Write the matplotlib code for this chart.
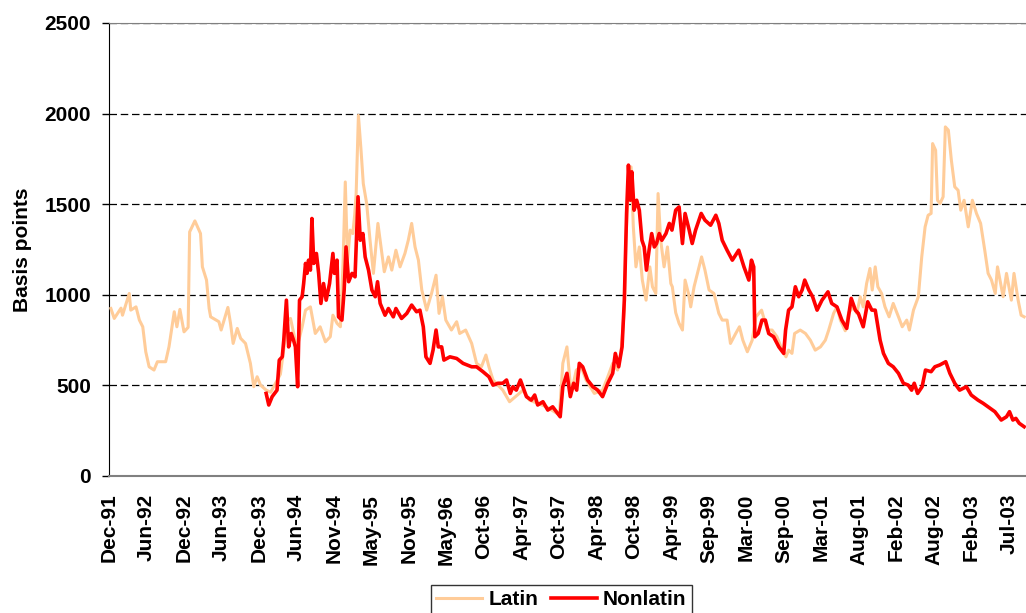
import matplotlib
matplotlib.use('Agg')
import matplotlib.pyplot as plt

# x positions are in tick-interval units (0 = Dec-91, 1 = Jun-92, ...)
tick_labels = ['Dec-91', 'Jun-92', 'Dec-92', 'Jun-93', 'Dec-93', 'Jun-94', 'Nov-94',
               'May-95', 'Nov-95', 'May-96', 'Oct-96', 'Apr-97', 'Oct-97', 'Apr-98',
               'Oct-98', 'Apr-99', 'Sep-99', 'Mar-00', 'Sep-00', 'Mar-01', 'Aug-01',
               'Feb-02', 'Aug-02', 'Feb-03', 'Jul-03']

latin_t = [0.05, 0.14, 0.32, 0.36, 0.54, 0.58, 0.72, 0.81, 0.90, 0.98, 1.07, 1.20, 1.29,
           1.51, 1.60, 1.74, 1.81, 1.89, 2.00, 2.11, 2.15, 2.29, 2.44, 2.49, 2.60, 2.67,
           2.71, 2.93, 2.99, 3.17, 3.24, 3.31, 3.42, 3.51, 3.64, 3.77, 3.86, 3.95, 4.04,
           4.19, 4.31, 4.57, 4.76, 4.84, 5.01, 5.15, 5.24, 5.37, 5.50, 5.63, 5.77, 5.90,
           5.97, 6.08, 6.17, 6.24, 6.30, 6.36, 6.43, 6.50, 6.55, 6.59, 6.65, 6.72, 6.78,
           6.87, 6.96, 7.05, 7.17, 7.23, 7.34, 7.45, 7.54, 7.65, 7.76, 7.89, 7.98, 8.07,
           8.16, 8.25, 8.34, 8.47, 8.60, 8.72, 8.80, 8.89, 8.98, 9.13, 9.27, 9.35, 9.51,
           9.67, 9.80, 9.93, 10.05, 10.13, 10.24, 10.50, 10.68, 11.04, 11.21, 11.66, 12.01,
           12.10, 12.21, 12.32, 12.46, 12.59, 12.72, 12.94, 13.16, 13.30, 13.43, 13.56,
           13.65, 13.74, 13.78, 13.85, 13.92, 13.98, 14.05, 14.14, 14.22, 14.32, 14.42,
           14.49, 14.58, 14.64, 14.71, 14.80, 14.89, 14.98, 15.02, 15.11, 15.20, 15.29,
           15.36, 15.45, 15.51, 15.60, 15.69, 15.80, 15.89, 16.00, 16.13, 16.26, 16.35,
           16.48, 16.57, 16.71, 16.81, 16.90, 17.02, 17.15, 17.25, 17.40, 17.55, 17.68,
           17.81, 17.95, 18.05, 18.12, 18.21, 18.28, 18.43, 18.57, 18.70, 18.83, 18.97,
           19.10, 19.19, 19.32, 19.41, 19.50, 19.63, 19.72, 19.85, 19.94, 20.03, 20.11,
           20.20, 20.29, 20.35, 20.43, 20.50, 20.60, 20.69, 20.80, 20.91, 21.05, 21.15,
           21.27, 21.34, 21.45, 21.58, 21.67, 21.76, 21.84, 21.92, 21.96, 22.04, 22.09,
           22.16, 22.24, 22.30, 22.38, 22.46, 22.55, 22.64, 22.71, 22.80, 22.91, 23.02,
           23.13, 23.24, 23.35, 23.44, 23.53, 23.63, 23.69, 23.84, 23.93, 24.06, 24.13,
           24.24, 24.32, 24.40]
latin_bp = [923, 868, 925, 886, 1006, 914, 932, 859, 822, 684, 601, 583, 629,
            629, 712, 905, 822, 918, 794, 819, 1346, 1407, 1337, 1153, 1080, 923,
            877, 850, 804, 929, 841, 730, 813, 758, 730, 620, 491, 546, 500,
            472, 460, 560, 858, 868, 703, 822, 914, 932, 785, 822, 739, 767,
            886, 841, 822, 1172, 1622, 1190, 1356, 1337, 1438, 1558, 1990, 1797, 1613,
            1503, 1300, 1117, 1393, 1300, 1126, 1208, 1135, 1245, 1153, 1227, 1300, 1393,
            1263, 1190, 1025, 914, 1006, 1107, 896, 988, 859, 804, 850, 785, 804,
            730, 620, 601, 666, 601, 528, 472, 408, 472, 417, 380, 335,
            620, 711, 454, 583, 601, 528, 454, 472, 546, 620, 583,
            675, 914, 1300, 1595, 1705, 1374, 1153, 1263, 1080, 969, 1153,
            1043, 1006, 1558, 1300, 1153, 1263, 1061, 1043, 900, 841, 804,
            1080, 1006, 932, 1043, 1117, 1208, 1135, 1025, 1006, 896, 859,
            859, 730, 785, 822, 748, 684, 748, 877, 914, 804, 804,
            767, 693, 656, 693, 675, 785, 804, 785, 748, 693, 711,
            748, 804, 896, 932, 859, 800, 900, 932, 896, 988, 932,
            1061, 1144, 1025, 1153, 1043, 1006, 932, 877, 951, 877, 822,
            859, 804, 914, 988, 1208, 1374, 1438, 1448, 1834, 1797, 1521,
            1503, 1540, 1926, 1908, 1742, 1595, 1576, 1466, 1521, 1374, 1521,
            1448, 1393, 1245, 1117, 1080, 1006, 1153, 988, 1117, 969, 1117,
            969, 886, 877]

nonlatin_t = [4.19, 4.26, 4.35, 4.48, 4.54, 4.62, 4.66, 4.73, 4.79, 4.86, 4.92, 4.97,
              5.03, 5.08, 5.15, 5.19, 5.24, 5.28, 5.32, 5.37, 5.41, 5.46, 5.53, 5.59,
              5.65, 5.72, 5.79, 5.88, 5.97, 6.01, 6.08, 6.12, 6.21, 6.27, 6.32, 6.39,
              6.48, 6.56, 6.61, 6.64, 6.70, 6.77, 6.83, 6.92, 7.01, 7.10, 7.16, 7.23,
              7.36, 7.45, 7.58, 7.65, 7.80, 7.94, 8.07, 8.20, 8.29, 8.38, 8.45, 8.56,
              8.64, 8.72, 8.78, 8.87, 8.93, 9.09, 9.27, 9.44, 9.67, 9.80, 9.97, 10.13,
              10.24, 10.37, 10.50, 10.60, 10.70, 10.77, 10.86, 10.97, 11.13, 11.26, 11.35,
              11.43, 11.57, 11.70, 11.83, 12.03, 12.10, 12.21, 12.30, 12.39, 12.47, 12.54,
              12.63, 12.76, 12.90, 13.03, 13.16, 13.30, 13.43, 13.50, 13.59, 13.68, 13.74,
              13.80, 13.85, 13.90, 13.94, 14.00, 14.07, 14.14, 14.21, 14.27, 14.33, 14.40,
              14.47, 14.54, 14.60, 14.67, 14.74, 14.85, 14.94, 15.01, 15.11, 15.20, 15.29,
              15.36, 15.47, 15.55, 15.64, 15.79, 15.89, 16.04, 16.18, 16.26, 16.35, 16.48,
              16.62, 16.79, 16.93, 17.06, 17.13, 17.19, 17.22, 17.31, 17.41, 17.50, 17.59,
              17.72, 17.86, 17.99, 18.04, 18.12, 18.21, 18.30, 18.39, 18.48, 18.55, 18.66,
              18.76, 18.88, 19.01, 19.17, 19.27, 19.41, 19.54, 19.67, 19.79, 19.90, 19.98,
              20.11, 20.23, 20.34, 20.43, 20.56, 20.65, 20.78, 20.91, 21.05, 21.18, 21.31,
              21.40, 21.47, 21.56, 21.68, 21.77, 21.92, 22.02, 22.15, 22.31, 22.42, 22.55,
              22.68, 22.86, 22.99, 23.17, 23.31, 23.44, 23.62, 23.79, 23.93, 24.01, 24.10,
              24.18, 24.27, 24.40]
nonlatin_bp = [454, 390, 436, 472, 638, 656, 748, 969, 711, 785, 748, 711,
               491, 969, 988, 1061, 1172, 1117, 1190, 1135, 1420, 1172, 1227, 1117,
               951, 1061, 969, 1061, 1227, 1117, 1190, 877, 859, 1025, 1263, 1071,
               1117, 1098, 1374, 1540, 1300, 1337, 1208, 1135, 1025, 988, 1071, 951,
               886, 923, 877, 923, 868, 896, 942, 905, 914, 822, 656, 620,
               693, 804, 711, 711, 638, 656, 647, 620, 601, 601, 574, 546,
               500, 510, 510, 528, 454, 491, 472, 528, 436, 417, 445,
               390, 408, 362, 380, 325, 491, 565, 436, 510, 472, 620,
               601, 528, 491, 472, 436, 510, 565, 675, 601, 711, 969,
               1448, 1715, 1521, 1678, 1466, 1521, 1466, 1300, 1263, 1135, 1245,
               1337, 1263, 1282, 1337, 1300, 1337, 1393, 1356, 1466, 1484, 1282,
               1448, 1356, 1282, 1356, 1448, 1411, 1383, 1438, 1393, 1300, 1245,
               1190, 1245, 1153, 1080, 1190, 1153, 767, 785, 859, 859, 785,
               767, 711, 675, 804, 914, 932, 1043, 988, 1025, 1080, 1025,
               988, 914, 969, 1015, 951, 932, 859, 813, 979, 914, 896,
               822, 960, 914, 914, 748, 675, 620, 601, 565, 510, 500,
               472, 510, 454, 491, 583, 574, 601, 611, 629, 565, 510,
               472, 491, 445, 417, 399, 380, 353, 307, 325, 353, 307,
               316, 289, 270]

plt.rcParams['font.family'] = ['Liberation Sans', 'DejaVu Sans']
plt.rcParams['font.weight'] = 'bold'

fig = plt.figure(figsize=(10.26, 6.13), dpi=100)
ax = fig.add_axes([109 / 1026, 1 - 475.6 / 613, (1026 - 109) / 1026, (475.6 - 23) / 613])

ax.plot(latin_t, latin_bp, color='#FFCC99', lw=2.2, label='Latin', zorder=3)
ax.plot(nonlatin_t, nonlatin_bp, color='#FF0000', lw=2.6, label='Nonlatin', zorder=4)

ax.set_xlim(0, 24.45)
ax.set_ylim(0, 2500)
ax.set_yticks([0, 500, 1000, 1500, 2000, 2500])
ax.set_xticks(range(len(tick_labels)))
ax.set_xticklabels(tick_labels, rotation=90, fontsize=15, fontweight='bold')
ax.tick_params(axis='y', labelsize=15, length=5, width=1, pad=8, direction='out')
ax.tick_params(axis='x', length=0, pad=13)
for lab in ax.get_yticklabels():
    lab.set_fontweight('bold')

ax.set_ylabel('Basis points', fontsize=15, fontweight='bold', labelpad=9)

ax.yaxis.grid(True, linestyle=(0, (6, 3)), color='black', lw=0.9)
ax.set_axisbelow(True)
ax.spines['right'].set_visible(False)
ax.spines['top'].set_color('#808080')
ax.spines['bottom'].set_color('#808080')
ax.spines['bottom'].set_linewidth(1.5)
ax.spines['left'].set_color('black')

leg = fig.legend(loc='upper center', bbox_to_anchor=(561.5 / 1026, 1 - 585 / 613),
                 ncol=2, frameon=True, fancybox=False, shadow=False,
                 prop={'size': 15, 'weight': 'bold'}, handlelength=2.2,
                 handletextpad=0.3, columnspacing=0.6, borderpad=0.25,
                 borderaxespad=0)
leg.get_frame().set_edgecolor('black')
leg.get_frame().set_linewidth(1.0)

fig.savefig('out.png', dpi=100)
